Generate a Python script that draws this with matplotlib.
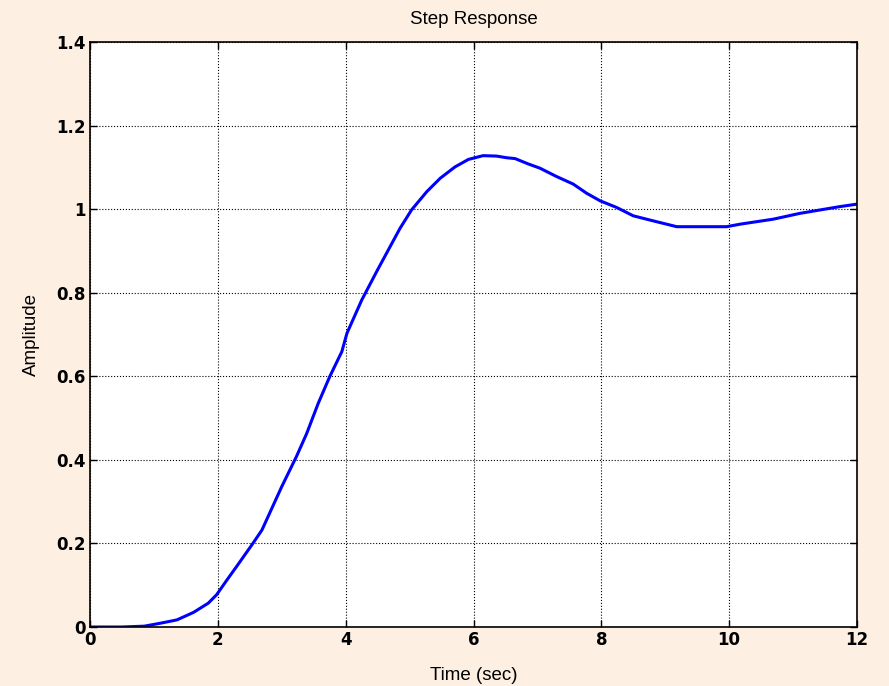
import matplotlib
matplotlib.use("Agg")
import matplotlib.pyplot as plt

time = [0.0, 0.5, 0.85, 1.10, 1.36, 1.62, 1.85, 1.98, 2.14, 2.29, 2.53, 2.69, 3.0, 3.23,
        3.39, 3.57, 3.75, 3.94, 4.02, 4.25, 4.50, 4.85, 5.03, 5.27, 5.48, 5.71, 5.92,
        6.15, 6.36, 6.52, 6.65, 6.86, 7.04, 7.30, 7.56, 7.77, 7.98, 8.24, 8.50, 8.81,
        9.18, 9.96, 10.17, 10.43, 10.69, 11.11, 11.42, 11.73, 12.0]
amplitude = [0.0, 0.0, 0.002, 0.009, 0.017, 0.035, 0.057, 0.077, 0.112, 0.144, 0.196,
             0.232, 0.336, 0.408, 0.463, 0.535, 0.599, 0.659, 0.703, 0.782, 0.855, 0.954,
             0.998, 1.042, 1.074, 1.101, 1.119, 1.128, 1.127, 1.123, 1.121, 1.108, 1.098,
             1.078, 1.060, 1.038, 1.020, 1.004, 0.984, 0.972, 0.958, 0.958, 0.964, 0.970,
             0.976, 0.990, 0.998, 1.006, 1.012]
xticks = [0, 2, 4, 6, 8, 10, 12]
yticks = [0, 0.2, 0.4, 0.6, 0.8, 1, 1.2, 1.4]
ytick_labels = ["0", "0.2", "0.4", "0.6", "0.8", "1", "1.2", "1.4"]

bg = "#FDF0E2"
fig = plt.figure(figsize=(8.89, 6.86), dpi=100, facecolor=bg)
ax = fig.add_axes([90/889, 1 - 627/686, (857-90)/889, (627-42)/686])
ax.plot(time, amplitude, color="#0000FF", lw=2.2)
ax.set_xlim(0, 12)
ax.set_ylim(0, 1.4)
ax.set_xticks(xticks)
ax.set_xticklabels([str(v) for v in xticks])
ax.set_yticks(yticks)
ax.set_yticklabels(ytick_labels)
ax.grid(True, color="black", linestyle=":", lw=0.8)
ax.tick_params(direction="in", top=True, right=True, length=5, width=1, pad=3)
for lab in ax.get_xticklabels() + ax.get_yticklabels():
    lab.set_family("DejaVu Sans")
    lab.set_fontweight("heavy")
    lab.set_fontsize(12)
for s in ax.spines.values():
    s.set_color("black")
    s.set_linewidth(1.2)
lbl = dict(fontsize=13.5, family="Liberation Sans")
ax.set_title("Step Response", pad=13, **lbl)
ax.set_xlabel("Time (sec)", labelpad=13, **lbl)
ax.set_ylabel("Amplitude", labelpad=12, **lbl)
fig.savefig("out.png", dpi=100, facecolor=bg)
